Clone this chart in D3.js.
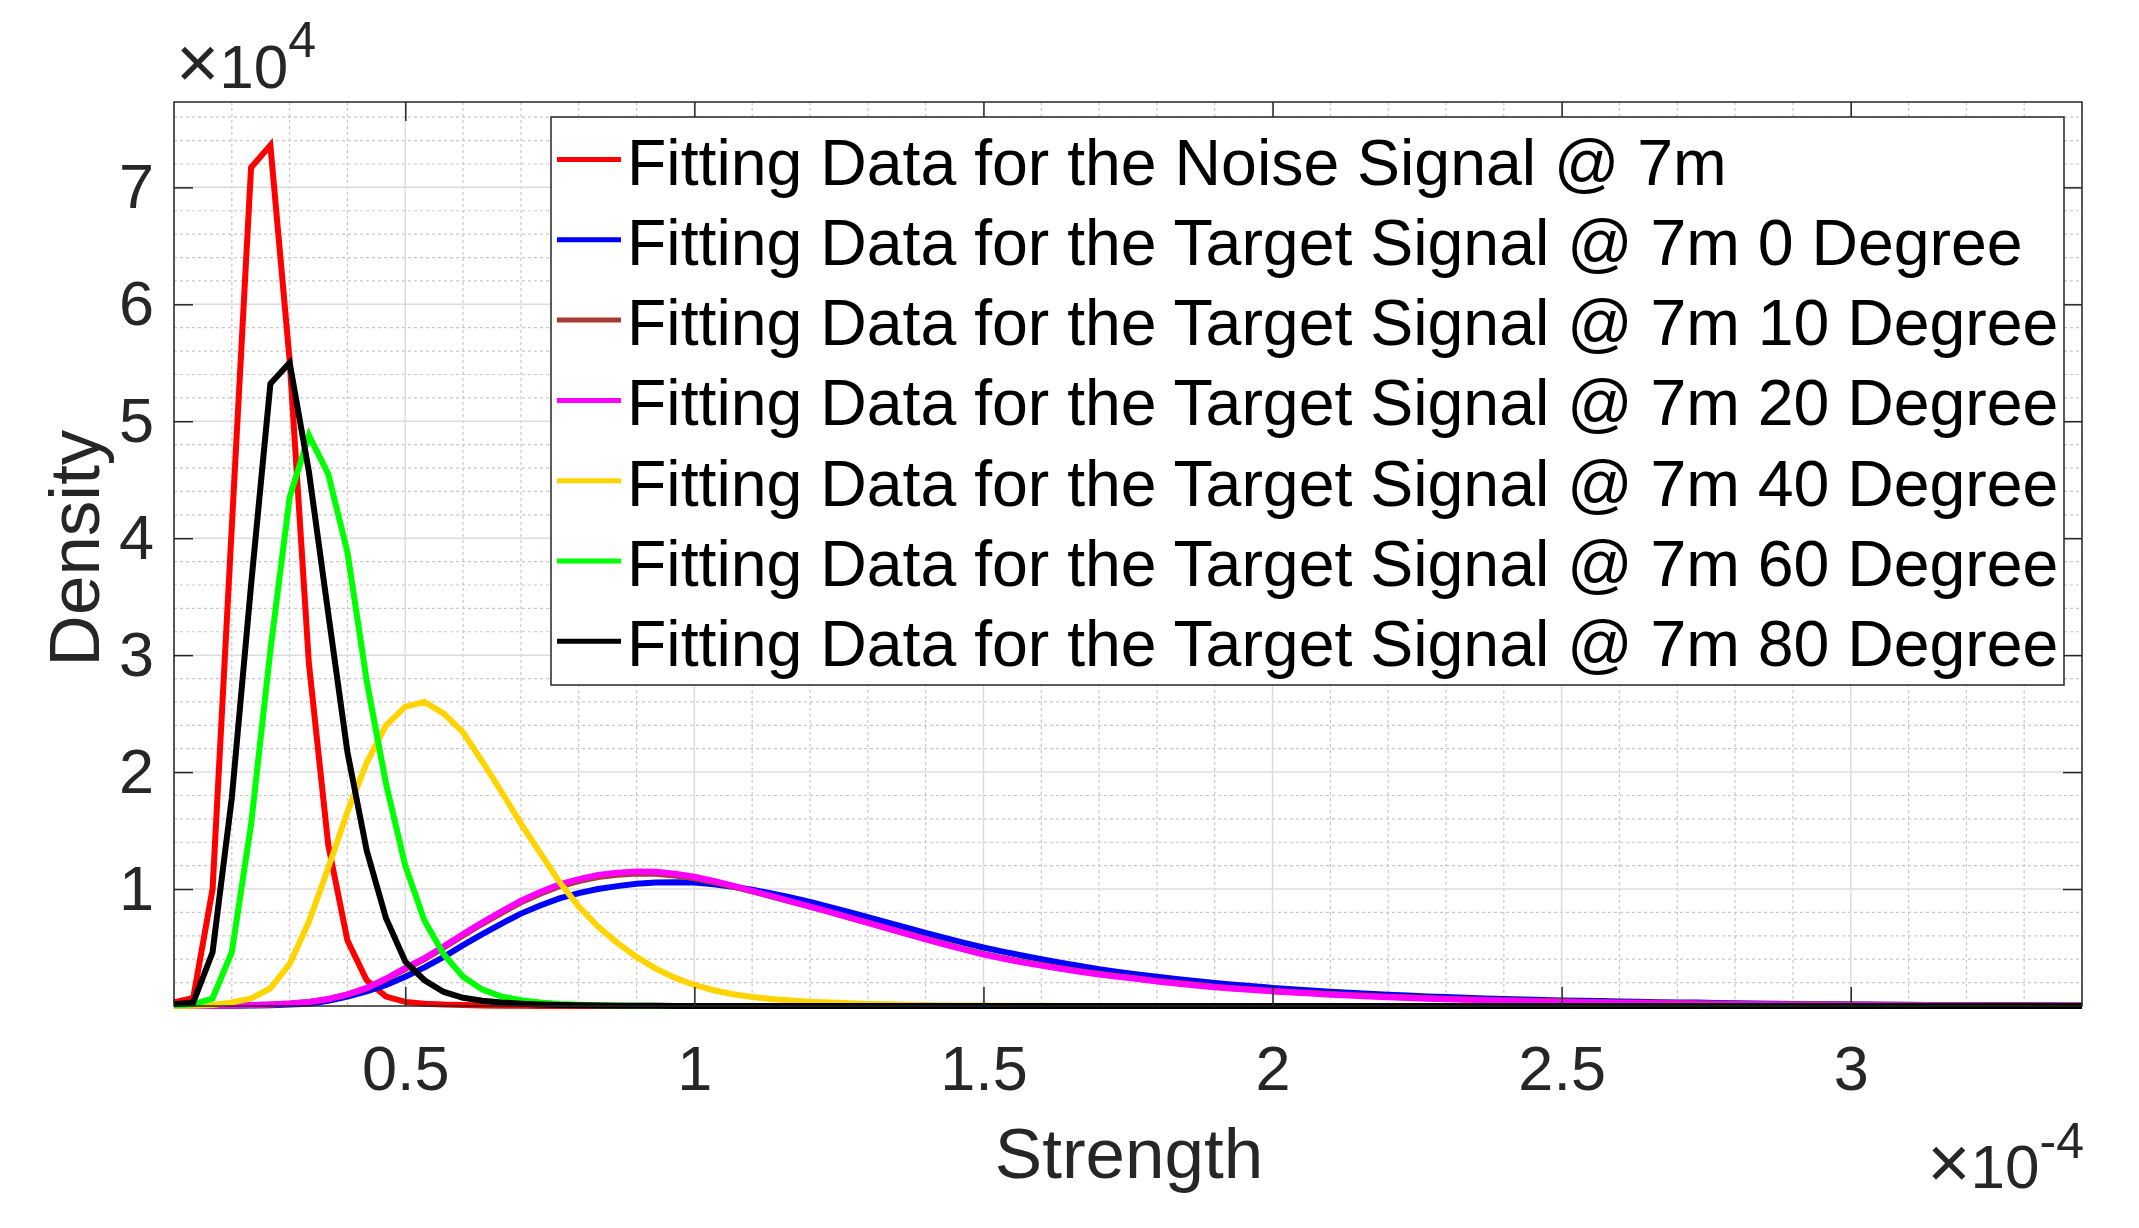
<!DOCTYPE html>
<html lang="en">
<head>
<meta charset="UTF-8">
<title>Density vs Strength</title>
<script src="https://d3js.org/d3.v7.min.js"></script>
<style>
  body { margin: 0; background: #fff; }
  svg text { font-family: "Liberation Sans", Arial, Helvetica, sans-serif; }
</style>
</head>
<body>
<svg width="2139" height="1228"></svg>
<script>
// strength in units of 1e-4, density in units of 1e4
const strength = [
  0.1000, 0.1333, 0.1667, 0.2000, 0.2333, 0.2667, 0.3000, 0.3333, 0.3667, 0.4000,
  0.4333, 0.4667, 0.5000, 0.5333, 0.5667, 0.6000, 0.6333, 0.6667, 0.7000, 0.7333,
  0.7667, 0.8000, 0.8333, 0.8667, 0.9000, 0.9333, 0.9667, 1.0000, 1.0333, 1.0667,
  1.1000, 1.1333, 1.1667, 1.2000, 1.2333, 1.2667, 1.3000, 1.3333, 1.3667, 1.4000,
  1.4333, 1.4667, 1.5000, 1.5333, 1.5667, 1.6000, 1.6333, 1.6667, 1.7000, 1.7333,
  1.7667, 1.8000, 1.8333, 1.8667, 1.9000, 1.9333, 1.9667, 2.0000, 2.0333, 2.0667,
  2.1000, 2.1333, 2.1667, 2.2000, 2.2333, 2.2667, 2.3000, 2.3333, 2.3667, 2.4000,
  2.4333, 2.4667, 2.5000, 2.5333, 2.5667, 2.6000, 2.6333, 2.6667, 2.7000, 2.7333,
  2.7667, 2.8000, 2.8333, 2.8667, 2.9000, 2.9333, 2.9667, 3.0000, 3.0333, 3.0667,
  3.1000, 3.1333, 3.1667, 3.2000, 3.2333, 3.2667, 3.3000, 3.3333, 3.3667, 3.4000
];

const noise7m = [
  0.03, 0.07, 1.00, 4.10, 7.17, 7.36, 5.52, 2.93, 1.38, 0.56,
  0.22, 0.08, 0.035, 0.02, 0.012, 0.008, 0.005, 0.003, 0.002, 0.001,
  0, 0, 0, 0, 0, 0, 0, 0, 0, 0,
  0, 0, 0, 0, 0, 0, 0, 0, 0, 0,
  0, 0, 0, 0, 0, 0, 0, 0, 0, 0,
  0, 0, 0, 0, 0, 0, 0, 0, 0, 0,
  0, 0, 0, 0, 0, 0, 0, 0, 0, 0,
  0, 0, 0, 0, 0, 0, 0, 0, 0, 0,
  0, 0, 0, 0, 0, 0, 0, 0, 0, 0,
  0, 0, 0, 0, 0, 0, 0, 0, 0, 0
];

const target0 = [
  0, 0.0005, 0.001, 0.002, 0.004, 0.007, 0.012, 0.02, 0.045, 0.08,
  0.125, 0.18, 0.25, 0.33, 0.42, 0.52, 0.615, 0.705, 0.79, 0.86,
  0.92, 0.965, 1.00, 1.025, 1.045, 1.055, 1.058, 1.055, 1.04, 1.02,
  0.995, 0.962, 0.928, 0.89, 0.848, 0.805, 0.76, 0.715, 0.67, 0.625,
  0.583, 0.54, 0.50, 0.465, 0.432, 0.40, 0.37, 0.342, 0.315, 0.292,
  0.27, 0.25, 0.232, 0.214, 0.197, 0.182, 0.168, 0.155, 0.143, 0.132,
  0.122, 0.113, 0.104, 0.096, 0.089, 0.082, 0.076, 0.07, 0.065, 0.06,
  0.056, 0.052, 0.048, 0.045, 0.042, 0.039, 0.036, 0.033, 0.031, 0.029,
  0.026, 0.024, 0.022, 0.02, 0.018, 0.016, 0.015, 0.013, 0.012, 0.011,
  0.01, 0.009, 0.008, 0.007, 0.0065, 0.006, 0.0055, 0.005, 0.0045, 0.004
];

const target10 = [
  0, 0.001, 0.002, 0.004, 0.008, 0.013, 0.021, 0.034, 0.058, 0.097,
  0.15, 0.228, 0.315, 0.40, 0.50, 0.603, 0.703, 0.797, 0.886, 0.96,
  1.024, 1.068, 1.102, 1.122, 1.132, 1.13, 1.115, 1.092, 1.06, 1.022,
  0.98, 0.937, 0.893, 0.849, 0.805, 0.758, 0.712, 0.666, 0.62, 0.574,
  0.53, 0.487, 0.446, 0.41, 0.378, 0.35, 0.323, 0.298, 0.275, 0.255,
  0.235, 0.215, 0.198, 0.181, 0.165, 0.152, 0.141, 0.13, 0.12, 0.111,
  0.102, 0.094, 0.087, 0.08, 0.074, 0.068, 0.063, 0.058, 0.054, 0.05,
  0.046, 0.043, 0.04, 0.037, 0.034, 0.031, 0.029, 0.027, 0.025, 0.023,
  0.021, 0.019, 0.018, 0.016, 0.015, 0.014, 0.013, 0.012, 0.011, 0.010,
  0.009, 0.0085, 0.008, 0.0075, 0.007, 0.0065, 0.006, 0.0055, 0.005, 0.0045
];

const target20 = [
  0, 0.001, 0.002, 0.004, 0.008, 0.013, 0.022, 0.035, 0.06, 0.10,
  0.155, 0.235, 0.325, 0.41, 0.51, 0.615, 0.715, 0.81, 0.90, 0.975,
  1.04, 1.085, 1.12, 1.14, 1.15, 1.147, 1.13, 1.105, 1.07, 1.03,
  0.985, 0.94, 0.895, 0.85, 0.805, 0.757, 0.71, 0.663, 0.617, 0.57,
  0.525, 0.482, 0.44, 0.405, 0.373, 0.345, 0.318, 0.293, 0.27, 0.25,
  0.23, 0.21, 0.193, 0.176, 0.16, 0.147, 0.136, 0.125, 0.115, 0.106,
  0.097, 0.089, 0.082, 0.075, 0.069, 0.063, 0.058, 0.053, 0.049, 0.045,
  0.041, 0.038, 0.035, 0.032, 0.029, 0.027, 0.025, 0.023, 0.021, 0.019,
  0.017, 0.015, 0.014, 0.013, 0.012, 0.011, 0.010, 0.009, 0.008, 0.0075,
  0.007, 0.0065, 0.006, 0.0055, 0.005, 0.0046, 0.0042, 0.0038, 0.0035, 0.0032
];

const target40 = [
  0, 0.003, 0.008, 0.03, 0.065, 0.15, 0.36, 0.72, 1.18, 1.66,
  2.08, 2.40, 2.56, 2.60, 2.50, 2.34, 2.09, 1.83, 1.56, 1.31,
  1.06, 0.85, 0.68, 0.54, 0.42, 0.32, 0.24, 0.18, 0.135, 0.10,
  0.077, 0.06, 0.047, 0.037, 0.029, 0.023, 0.018, 0.014, 0.011, 0.008,
  0.006, 0.005, 0.004, 0.003, 0.002, 0.0015, 0.001, 0, 0, 0,
  0, 0, 0, 0, 0, 0, 0, 0, 0, 0,
  0, 0, 0, 0, 0, 0, 0, 0, 0, 0,
  0, 0, 0, 0, 0, 0, 0, 0, 0, 0,
  0, 0, 0, 0, 0, 0, 0, 0, 0, 0,
  0, 0, 0, 0, 0, 0, 0, 0, 0, 0
];

const target60 = [
  0.005, 0.015, 0.064, 0.46, 1.55, 3.04, 4.35, 4.88, 4.55, 3.88,
  2.78, 1.90, 1.20, 0.73, 0.44, 0.25, 0.14, 0.08, 0.05, 0.03,
  0.018, 0.011, 0.007, 0.004, 0.003, 0.002, 0.001, 0, 0, 0,
  0, 0, 0, 0, 0, 0, 0, 0, 0, 0,
  0, 0, 0, 0, 0, 0, 0, 0, 0, 0,
  0, 0, 0, 0, 0, 0, 0, 0, 0, 0,
  0, 0, 0, 0, 0, 0, 0, 0, 0, 0,
  0, 0, 0, 0, 0, 0, 0, 0, 0, 0,
  0, 0, 0, 0, 0, 0, 0, 0, 0, 0,
  0, 0, 0, 0, 0, 0, 0, 0, 0, 0
];

const target80 = [
  0.015, 0.03, 0.46, 1.78, 3.6, 5.32, 5.5, 4.57, 3.36, 2.17,
  1.33, 0.75, 0.38, 0.22, 0.12, 0.07, 0.045, 0.03, 0.02, 0.013,
  0.009, 0.006, 0.004, 0.003, 0.002, 0.0015, 0.001, 0, 0, 0,
  0, 0, 0, 0, 0, 0, 0, 0, 0, 0,
  0, 0, 0, 0, 0, 0, 0, 0, 0, 0,
  0, 0, 0, 0, 0, 0, 0, 0, 0, 0,
  0, 0, 0, 0, 0, 0, 0, 0, 0, 0,
  0, 0, 0, 0, 0, 0, 0, 0, 0, 0,
  0, 0, 0, 0, 0, 0, 0, 0, 0, 0,
  0, 0, 0, 0, 0, 0, 0, 0, 0, 0
];

const seriesNames = [
  "Fitting Data for the Noise Signal @ 7m",
  "Fitting Data for the Target Signal @ 7m 0 Degree",
  "Fitting Data for the Target Signal @ 7m 10 Degree",
  "Fitting Data for the Target Signal @ 7m 20 Degree",
  "Fitting Data for the Target Signal @ 7m 40 Degree",
  "Fitting Data for the Target Signal @ 7m 60 Degree",
  "Fitting Data for the Target Signal @ 7m 80 Degree"
];
const seriesValues = [noise7m, target0, target10, target20, target40, target60, target80];
const seriesColors = ["#ff0000", "#0000ff", "#a83c30", "#ff00ff", "#ffd400", "#00ff00", "#000000"];

const xTicks = [0.5, 1, 1.5, 2, 2.5, 3];
const yTicks = [1, 2, 3, 4, 5, 6, 7];

const margin = {top: 102, right: 57, bottom: 222, left: 174};
const width = 2139 - margin.left - margin.right;
const height = 1228 - margin.top - margin.bottom;

const svg = d3.select("svg");
const g = svg.append("g")
    .attr("transform", `translate(${margin.left},${margin.top})`);

const xScale = d3.scaleLinear().domain([0.1, 3.4]).range([0, width]);
const yScale = d3.scaleLinear().domain([0, 7.73]).range([height, 0]);

// minor grid
const xMinor = d3.range(1, 35).map(i => i / 10).filter(v => Math.round(v * 10) % 5 !== 0);
const yMinor = d3.range(1, 39).map(i => i / 5).filter(v => Math.round(v * 5) % 5 !== 0);

g.append("g").selectAll("line")
    .data(xMinor).enter().append("line")
    .attr("x1", d => xScale(d)).attr("x2", d => xScale(d))
    .attr("y1", 0).attr("y2", height)
    .attr("stroke", "#c8c8c8").attr("stroke-width", 1.2)
    .attr("stroke-dasharray", "3,3");

g.append("g").selectAll("line")
    .data(yMinor).enter().append("line")
    .attr("x1", 0).attr("x2", width)
    .attr("y1", d => yScale(d)).attr("y2", d => yScale(d))
    .attr("stroke", "#c8c8c8").attr("stroke-width", 1.2)
    .attr("stroke-dasharray", "3,3");

// major grid
g.append("g").selectAll("line")
    .data(xTicks).enter().append("line")
    .attr("x1", d => xScale(d)).attr("x2", d => xScale(d))
    .attr("y1", 0).attr("y2", height)
    .attr("stroke", "#dcdcdc").attr("stroke-width", 1.5);

g.append("g").selectAll("line")
    .data(yTicks).enter().append("line")
    .attr("x1", 0).attr("x2", width)
    .attr("y1", d => yScale(d)).attr("y2", d => yScale(d))
    .attr("stroke", "#dcdcdc").attr("stroke-width", 1.5);

// curves
const line = d3.line()
    .x(d => xScale(d[0]))
    .y(d => yScale(d[1]));

seriesValues.forEach((vals, i) => {
    g.append("path")
        .datum(strength.map((s, k) => [s, vals[k]]))
        .attr("fill", "none")
        .attr("stroke", seriesColors[i])
        .attr("stroke-width", 6)
        .attr("d", line);
});

// axes box
g.append("rect")
    .attr("width", width).attr("height", height)
    .attr("fill", "none").attr("stroke", "#262626").attr("stroke-width", 1.5);

const tickLen = 19;

g.append("g")
    .attr("transform", `translate(0,${height})`)
    .call(d3.axisBottom(xScale).tickValues(xTicks).tickSize(-tickLen).tickPadding(39).tickFormat(d => d));
g.append("g")
    .call(d3.axisLeft(yScale).tickValues(yTicks).tickSize(-tickLen).tickPadding(20).tickFormat(d => d));
g.append("g")
    .call(d3.axisTop(xScale).tickValues(xTicks).tickSize(-tickLen).tickFormat(""));
g.append("g")
    .attr("transform", `translate(${width},0)`)
    .call(d3.axisRight(yScale).tickValues(yTicks).tickSize(-tickLen).tickFormat(""));

g.selectAll(".domain").remove();
g.selectAll(".tick line").attr("stroke", "#262626").attr("stroke-width", 1.5);
g.selectAll(".tick text")
    .attr("fill", "#262626")
    .attr("font-size", 63)
    .attr("font-family", "Liberation Sans, Arial, sans-serif");

// axis labels
svg.append("text")
    .attr("x", 1129).attr("y", 1178)
    .attr("text-anchor", "middle")
    .attr("font-size", 71).attr("fill", "#262626")
    .text("Strength");

svg.append("text")
    .attr("transform", "translate(99,548) rotate(-90)")
    .attr("text-anchor", "middle")
    .attr("font-size", 71).attr("fill", "#262626")
    .text("Density");

// exponent labels
const yExp = svg.append("text")
    .attr("x", 176).attr("y", 88)
    .attr("fill", "#262626");
yExp.append("tspan").attr("font-size", 74).text("\u00d7");
yExp.append("tspan").attr("font-size", 62).text("10");
yExp.append("tspan").attr("font-size", 50).attr("dy", -31).text("4");

const xExp = svg.append("text")
    .attr("x", 2084).attr("y", 1188)
    .attr("text-anchor", "end")
    .attr("fill", "#262626");
xExp.append("tspan").attr("font-size", 74).text("\u00d7");
xExp.append("tspan").attr("font-size", 62).text("10");
xExp.append("tspan").attr("font-size", 50).attr("dy", -30).text("-4");

// legend
const legend = svg.append("g");
legend.append("rect")
    .attr("x", 551).attr("y", 117)
    .attr("width", 1513).attr("height", 568)
    .attr("fill", "#fff").attr("stroke", "#262626").attr("stroke-width", 1.5);

seriesNames.forEach((name, i) => {
    const yy = 159.5 + i * 80.3;
    legend.append("line")
        .attr("x1", 557).attr("x2", 621)
        .attr("y1", yy).attr("y2", yy)
        .attr("stroke", seriesColors[i]).attr("stroke-width", 5);
    legend.append("text")
        .attr("x", 627).attr("y", yy + 25)
        .attr("font-size", 64.4).attr("fill", "#000")
        .text(name);
});
</script>
</body>
</html>
